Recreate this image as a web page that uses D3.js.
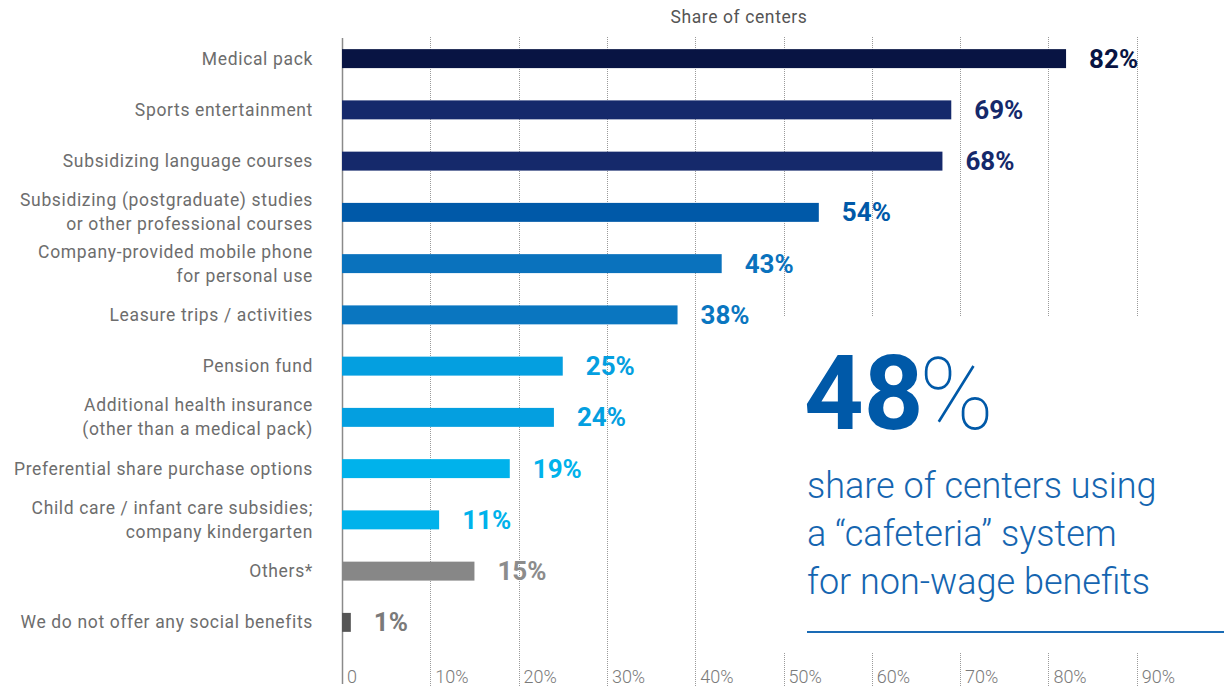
<!DOCTYPE html>
<html>
<head>
<meta charset="utf-8">
<script src="https://cdn.jsdelivr.net/npm/d3@7"></script>
<style>
  html, body { margin: 0; padding: 0; background: #fff; }
  svg { display: block; font-family: Roboto, "Open Sans", sans-serif; }
</style>
</head>
<body>
<svg id="chart" width="1224" height="687"></svg>
<script>
const categories = [
  "Medical pack",
  "Sports entertainment",
  "Subsidizing language courses",
  "Subsidizing (postgraduate) studies\nor other professional courses",
  "Company-provided mobile phone\nfor personal use",
  "Leasure trips / activities",
  "Pension fund",
  "Additional health insurance\n(other than a medical pack)",
  "Preferential share purchase options",
  "Child care / infant care subsidies;\ncompany kindergarten",
  "Others*",
  "We do not offer any social benefits"
];
const values = [82, 69, 68, 54, 43, 38, 25, 24, 19, 11, 15, 1];
const barColors = ["#081443", "#15296b", "#15296b", "#0059a8", "#0a72bd", "#0a76c0",
                   "#049fe0", "#049fe0", "#00b2eb", "#00b2eb", "#878787", "#555555"];
const labelColors = ["#081443", "#15296b", "#15296b", "#0059a8", "#0a72bd", "#0a76c0",
                     "#049fe0", "#049fe0", "#00b2eb", "#00b2eb", "#8c8c8c", "#7a7a7a"];
const tickValues = [0, 10, 20, 30, 40, 50, 60, 70, 80, 90];
const tickLabels = ["0", "10%", "20%", "30%", "40%", "50%", "60%", "70%", "80%", "90%"];
const axisTitle = "Share of centers";
const calloutValue = "48";
const calloutUnit = "%";
const calloutLines = ["share of centers using", "a \u201ccafeteria\u201d system", "for non-wage benefits"];

const svg = d3.select("#chart");

const x = d3.scaleLinear().domain([0, 100]).range([342, 1225]);
const y = d3.scaleBand().domain(categories).range([33, 648]).paddingInner(0.63).paddingOuter(0.315);

// gridlines
svg.append("g").selectAll("line").data(tickValues.filter(d => d > 0)).join("line")
  .attr("x1", d => Math.round(x(d)) + 0.5).attr("x2", d => Math.round(x(d)) + 0.5)
  .attr("y1", 37).attr("y2", 687)
  .attr("stroke", "#9a9a9a").attr("stroke-width", 1).attr("stroke-dasharray", "1,1");

// white panel hiding gridlines behind the callout
svg.append("rect").attr("x", 745).attr("y", 317).attr("width", 479).attr("height", 335).attr("fill", "#fff");

// axis line
svg.append("line").attr("x1", 342.5).attr("x2", 342.5).attr("y1", 38).attr("y2", 684)
  .attr("stroke", "#8a8a8a").attr("stroke-width", 1.5);

// axis title
svg.append("text").attr("x", 739).attr("y", 23).attr("text-anchor", "middle")
  .attr("font-size", 17.5).attr("letter-spacing", 0.6).attr("fill", "#555").text(axisTitle);

// tick labels
svg.append("g").selectAll("text").data(tickValues).join("text")
  .attr("x", d => x(d) + 5).attr("y", 683)
  .attr("font-size", 18).attr("fill", "#7a7a7a").attr("font-weight", 300)
  .text((d, i) => tickLabels[i]);

// bars
svg.append("g").selectAll("rect").data(values).join("rect")
  .attr("x", x(0)).attr("y", (d, i) => y(categories[i]))
  .attr("width", d => x(d) - x(0)).attr("height", y.bandwidth())
  .attr("fill", (d, i) => barColors[i]);

// value labels
svg.append("g").selectAll("text").data(values).join("text")
  .attr("x", d => x(d) + 23).attr("y", (d, i) => y(categories[i]) + y.bandwidth() / 2 + 9)
  .attr("font-size", 26).attr("font-weight", 700)
  .attr("fill", (d, i) => labelColors[i]).text(d => d + "%");

// category labels
const cl = svg.append("g").selectAll("text").data(categories).join("text")
  .attr("text-anchor", "end").attr("font-size", 17.5).attr("letter-spacing", 0.65)
  .attr("fill", "#6d6d6d");
cl.each(function(d) {
  const lines = d.split("\n");
  const cy = y(d) + y.bandwidth() / 2;
  const t = d3.select(this);
  lines.forEach((ln, k) => {
    t.append("tspan").attr("x", 313)
      .attr("y", cy + 6 + (k - (lines.length - 1) / 2) * 24).text(ln);
  });
});

// callout
const big = svg.append("text").attr("x", 804).attr("y", 429).attr("fill", "#0059a8");
big.append("tspan").attr("font-size", 104).attr("font-weight", 700).text(calloutValue);
big.append("tspan").attr("font-size", 100).attr("font-weight", 100).attr("dx", -4).text(calloutUnit);

svg.append("g").selectAll("text").data(calloutLines).join("text")
  .attr("x", 807).attr("y", (d, i) => 498 + i * 48)
  .attr("font-size", 36).attr("font-weight", 300).attr("fill", "#1565b0").text(d => d);

svg.append("line").attr("x1", 807).attr("x2", 1224).attr("y1", 632).attr("y2", 632)
  .attr("stroke", "#1a6bb5").attr("stroke-width", 2);
</script>
</body>
</html>
